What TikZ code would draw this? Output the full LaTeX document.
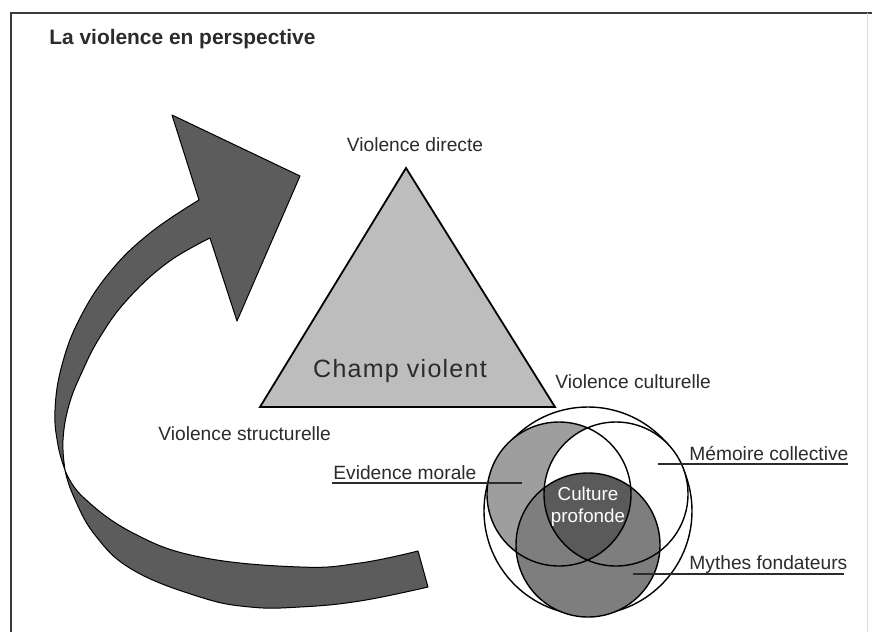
\documentclass[tikz,border=0pt]{standalone}
\usepackage{fontspec}
\setmainfont{Liberation Sans}
\definecolor{txt}{HTML}{2B2B2B}
\definecolor{framec}{HTML}{3A3A3A}
\definecolor{arrowc}{HTML}{5C5C5C}
\definecolor{tric}{HTML}{BDBDBD}
\definecolor{evc}{HTML}{9E9E9E}
\definecolor{myc}{HTML}{7E7E7E}
\definecolor{corec}{HTML}{5A5A5A}
\begin{document}
\begin{tikzpicture}[x=0.5pt,y=-0.5pt,
  lbl/.style={anchor=base west,inner sep=0,text=txt,font=\fontsize{9.6}{11.5}\selectfont},
  clbl/.style={anchor=base,inner sep=0,text=txt,font=\fontsize{9.6}{11.5}\selectfont},
  ribbon/.style={fill=arrowc,draw=black,line width=0.5pt,line join=round},
  ring/.style={draw=black,line width=0.7pt},
  uline/.style={draw=txt,line width=0.6pt}]
\useasboundingbox (0,0) rectangle (872,632);
\fill[white] (0,0) rectangle (872,632);
% frame
\draw[framec,line width=1pt] (11,632) -- (11,13) -- (872,13);
\draw[black!15,line width=0.4pt] (867,13) -- (867,632);
% title
\node[anchor=base west,inner sep=0,text=txt,font=\bfseries\fontsize{10.45}{12}\selectfont] (title) at (49,44) {La violence en perspective};
% curved arrow (ribbon)
\path[ribbon] (210,238) -- (237,321) -- (300,176) -- (172,115) -- (199,200)
  -- plot[smooth,tension=0.7] coordinates {(199,200) (150,233) (110,272) (80,318) (62,365) (55,410) (58,445) (65,470)}
  -- plot[smooth,tension=0.7] coordinates {(65,470) (63,440) (69,405) (82,372) (100,337) (127,300) (167,263) (210,238)} -- cycle;
\path[ribbon] (65,470)
  -- plot[smooth,tension=0.7] coordinates {(65,470) (83,497) (133,533) (200,557) (300,567) (360,563) (418,551)}
  -- (428,587)
  -- plot[smooth,tension=0.7] coordinates {(428,587) (360,601) (300,607) (250,607) (200,597) (133,570) (95,535) (73,495) (65,470)} -- cycle;
% triangle
\coordinate (apex) at (406,168);
\coordinate (bl) at (260,407);
\coordinate (br) at (555,407);
\filldraw[fill=tric,draw=black,line width=0.9pt,line join=miter] (apex) -- (bl) -- (br) -- cycle;
\node[anchor=base,inner sep=0,text=txt,font=\fontsize{12.5}{14}\selectfont\addfontfeature{LetterSpace=5}] (champ) at (400,377) {Champ violent};
\node[clbl] (vd) at (415,151) {Violence directe};
\node[lbl] (vc) at (555,388) {Violence culturelle};
\node[lbl] (vs) at (158,440) {Violence structurelle};
% circles
\coordinate (oc) at (588,511);
\coordinate (ec) at (559,494);
\coordinate (mc) at (616,494);
\coordinate (yc) at (588,545);
\filldraw[fill=white,ring] (oc) circle[radius=104];
\fill[evc] (ec) circle[radius=72];
\fill[white] (mc) circle[radius=72];
\fill[myc] (yc) circle[radius=72];
\begin{scope}
  \clip (ec) circle[radius=72];
  \clip (mc) circle[radius=72];
  \fill[corec] (yc) circle[radius=72];
\end{scope}
\draw[ring] (ec) circle[radius=72];
\draw[ring] (mc) circle[radius=72];
\draw[ring] (yc) circle[radius=72];
\node[align=center,inner sep=0,text=white,font=\fontsize{9.4}{11}\selectfont] (core) at (588,507) {Culture\\profonde};
% labels with underlines
\node[lbl] (ev) at (333,479) {Evidence morale};
\coordinate (ev-s) at (332,483);
\coordinate (ev-e) at (522,483);
\draw[uline] (ev-s) -- (ev-e);
\node[lbl] (me) at (689,460) {Mémoire collective};
\coordinate (me-s) at (658,464);
\coordinate (me-e) at (848,464);
\draw[uline] (me-s) -- (me-e);
\node[lbl] (my) at (689,569) {Mythes fondateurs};
\coordinate (my-s) at (633,574);
\coordinate (my-e) at (844,574);
\draw[uline] (my-s) -- (my-e);
\end{tikzpicture}
\end{document}
